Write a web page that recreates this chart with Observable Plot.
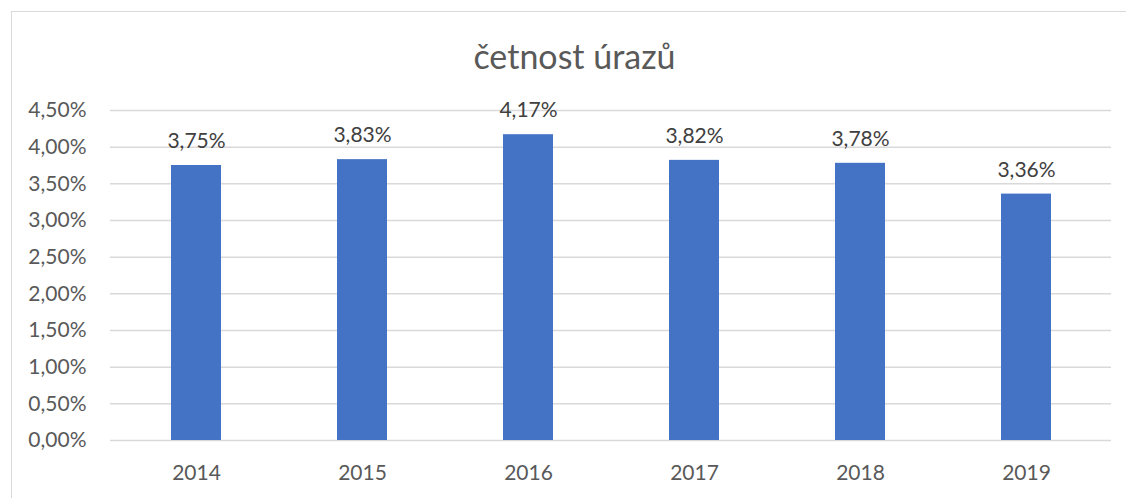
<!DOCTYPE html>
<html><head><meta charset="utf-8">
<script src="https://cdn.jsdelivr.net/npm/d3@7"></script>
<script src="https://cdn.jsdelivr.net/npm/@observablehq/plot@0.6"></script>
<style>
body{margin:0;background:#fff;font-family:Lato,"Noto Sans",sans-serif;}
#wrap{position:relative;width:1126px;height:498px;overflow:hidden;}
#frame{position:absolute;left:11px;top:11px;width:1200px;height:600px;border:1.5px solid #d9d9d9;box-sizing:border-box;}
#title{position:absolute;left:0;top:36px;width:1149px;text-align:center;font-size:34px;color:#595959;line-height:40px;}
#chart{position:absolute;left:0;top:80px;}
</style></head><body>
<div id="wrap"><div id="frame"></div><div id="title">četnost úrazů</div><div id="chart"></div></div>
<script>
const years = ["2014","2015","2016","2017","2018","2019"];
const values = [0.0375,0.0383,0.0417,0.0382,0.0378,0.0336];
const yTicks = [0,0.005,0.01,0.015,0.02,0.025,0.03,0.035,0.04,0.045];

const cz = d3.formatLocale({decimal:",",thousands:" ",grouping:[3],currency:["","Kč"]});
const fmt = cz.format(".2%");
const data = years.map((y,i)=>({year:y,value:values[i]}));

const chart = Plot.plot({
  width:1126, height:418,
  marginLeft:110, marginRight:15, marginTop:30, marginBottom:58,
  style:{fontFamily:"Lato, 'Noto Sans', sans-serif", fontSize:"21px", color:"#595959", background:"transparent"},
  x:{domain:years, paddingInner:0.7, paddingOuter:0.35, label:null, tickSize:0, tickPadding:25},
  y:{domain:[0,0.045], ticks:yTicks, tickFormat:fmt, label:null, tickSize:0, tickPadding:24},
  marks:[
    Plot.ruleY(yTicks,{stroke:"#d9d9d9", strokeWidth:1.5}),
    Plot.barY(data,{x:"year", y:"value", fill:"#4472c4"}),
    Plot.text(data,{x:"year", y:"value", text:d=>fmt(d.value), dy:-24, fill:"#404040", fontSize:21})
  ]
});
document.getElementById("chart").appendChild(chart);
</script>
</body></html>
